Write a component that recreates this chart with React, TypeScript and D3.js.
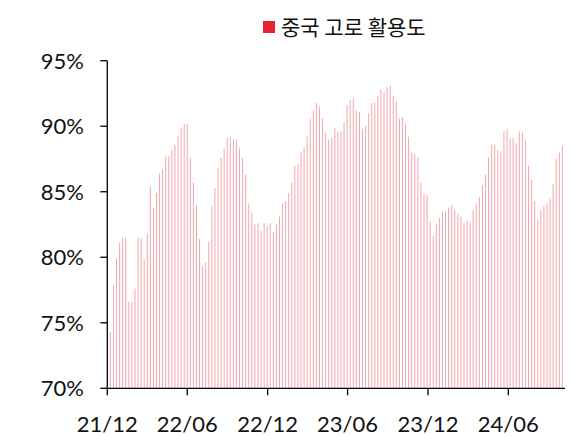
import React from "react";
import * as d3 from "d3";

const seriesName = "중국 고로 활용도";
const startDate = new Date(2021, 11, 8);
const values = [
  74.3, 77.9, 79.9, 81.1, 81.5, 81.5, 76.6, 76.6, 77.6, 81.5, 81.5, 79.8, 81.8, 85.4, 83.8, 84.9,
  86.4, 86.7, 87.7, 87.7, 88.2, 88.6, 89.3, 89.9, 90.2, 90.2, 87.6, 85.7, 84.0, 81.4, 79.3, 79.6,
  81.2, 83.9, 85.3, 86.8, 87.6, 88.3, 89.1, 89.2, 89.0, 89.0, 88.3, 87.6, 86.3, 84.1, 83.4, 82.5,
  82.6, 82.0, 82.6, 82.4, 82.6, 81.9, 82.5, 83.1, 84.1, 84.3, 84.9, 85.7, 87.0, 87.1, 88.0, 88.4,
  89.3, 90.6, 91.2, 91.8, 91.5, 90.6, 89.5, 89.0, 89.1, 89.9, 89.6, 89.6, 90.3, 91.6, 92.0, 92.1,
  91.2, 91.1, 89.8, 90.0, 91.0, 91.8, 91.8, 92.3, 92.8, 92.6, 93.0, 93.1, 92.3, 91.9, 90.6, 90.7,
  90.2, 89.2, 88.0, 87.9, 87.6, 85.7, 84.8, 84.7, 82.7, 81.6, 82.5, 83.0, 83.5, 83.5, 83.8, 84.0,
  83.6, 83.3, 83.1, 82.6, 82.8, 82.7, 83.6, 84.1, 84.6, 85.5, 86.3, 87.6, 88.6, 88.6, 88.2, 88.1,
  89.6, 89.8, 89.1, 89.1, 88.7, 89.6, 89.6, 88.9, 87.0, 85.9, 84.3, 82.9, 83.6, 83.9, 84.1, 84.5,
  85.6, 87.5, 88.0, 88.5,
];
const dates = values.map((_, i) => d3.timeDay.offset(startDate, i * 7));
const yTicks = [70, 75, 80, 85, 90, 95];
const xTicks = [
  new Date(2021, 11, 1),
  new Date(2022, 5, 1),
  new Date(2022, 11, 1),
  new Date(2023, 5, 1),
  new Date(2023, 11, 1),
  new Date(2024, 5, 1),
];
const xTickLabels = ["21/12", "22/06", "22/12", "23/06", "23/12", "24/06"];

const W = 576;
const H = 436;
const left = 107.3;
const right = 565;
const top = 60.7;
const bottom = 388.3;

export default function App() {
  const x = d3
    .scaleTime()
    .domain([new Date(2021, 11, 1), new Date(2024, 9, 8)])
    .range([left, right]);
  const y = d3.scaleLinear().domain([70, 95]).range([bottom, top]);
  const font = "Lato, 'Noto Sans', sans-serif";
  return (
    <svg
      width={W}
      height={H}
      style={{ position: "absolute", left: 0, top: 0, background: "#fff" }}
    >
      <g>
        {values.map((v, i) => (
          <rect
            key={i}
            x={x(dates[i]) - 0.5}
            y={y(v)}
            width={1}
            height={bottom - y(v)}
            fill="#f5a6ab"
          />
        ))}
      </g>
      <line x1={left} x2={left} y1={top} y2={bottom} stroke="#000" strokeWidth={1.3} />
      <line x1={left} x2={right} y1={bottom} y2={bottom} stroke="#000" strokeWidth={1.3} />
      {yTicks.map((t) => (
        <g key={t}>
          <line x1={left - 7} x2={left} y1={y(t)} y2={y(t)} stroke="#000" strokeWidth={1.3} />
          <text
            x={84}
            y={y(t)}
            dy="0.36em"
            textAnchor="end"
            fontFamily={font}
            fontSize={22}
            fill="#111"
          >
            {t}%
          </text>
        </g>
      ))}
      {xTicks.map((t, i) => (
        <g key={i}>
          <line x1={x(t)} x2={x(t)} y1={bottom} y2={bottom + 7} stroke="#000" strokeWidth={1.3} />
          <text
            x={x(t)}
            y={432}
            textAnchor="middle"
            fontFamily={font}
            fontSize={22}
            fill="#111"
          >
            {xTickLabels[i]}
          </text>
        </g>
      ))}
      <rect x={263} y={21} width={12} height={12} fill="#e8222e" />
      <text
        x={281}
        y={27}
        dy="0.36em"
        fontFamily="'Noto Sans CJK KR', sans-serif"
        fontSize={21}
        fill="#111"
      >
        {seriesName}
      </text>
    </svg>
  );
}
